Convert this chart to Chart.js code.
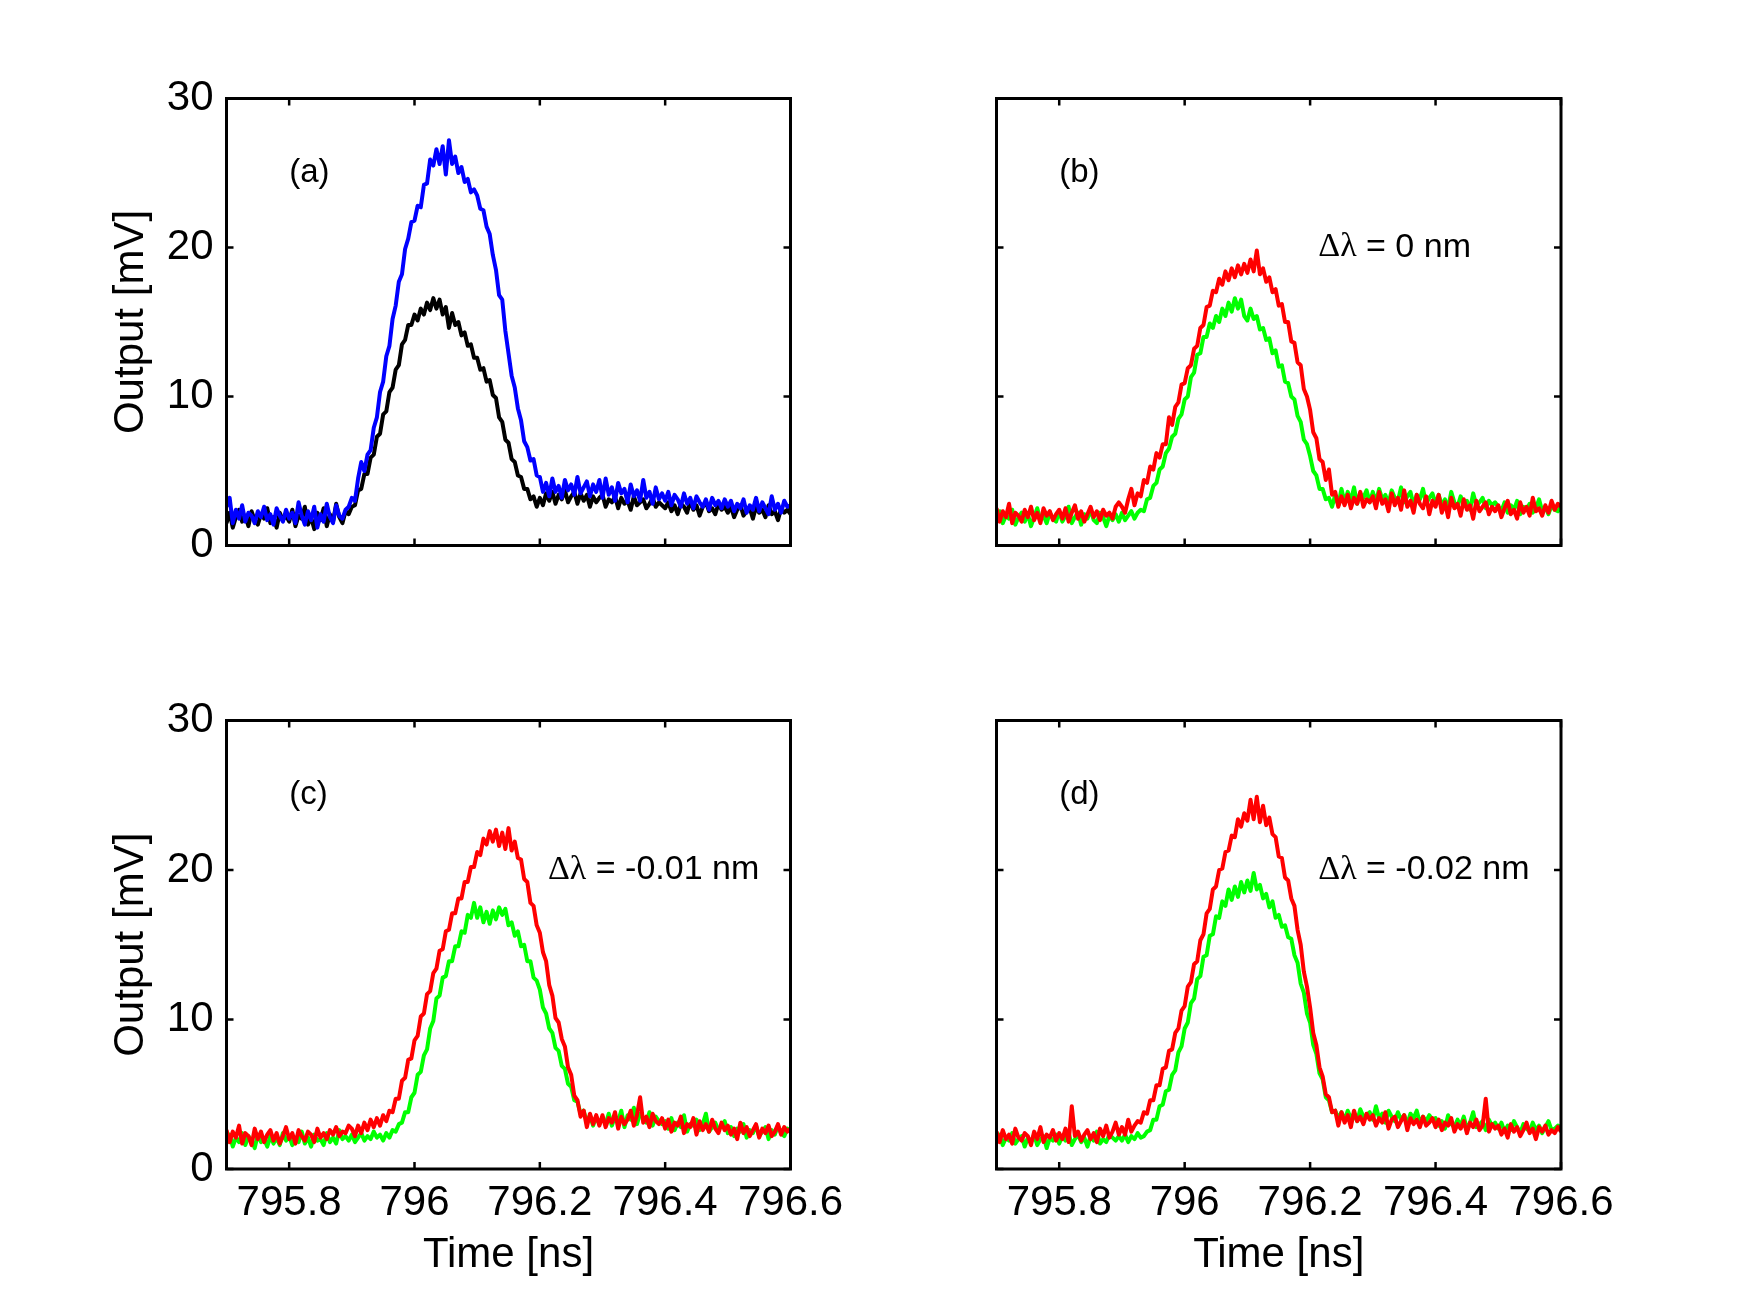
<!DOCTYPE html>
<html><head><meta charset="utf-8">
<script src="https://cdn.jsdelivr.net/npm/chart.js@4/dist/chart.umd.min.js"></script>
<style>
html,body{margin:0;padding:0;background:#fff;}
#wrap{position:relative;width:1750px;height:1312px;background:#fff;overflow:hidden;}
canvas{position:absolute;}
</style></head><body>
<div id="wrap">
<canvas id="pa" width="875" height="656" style="left:0px;top:0px"></canvas>
<canvas id="pb" width="875" height="656" style="left:875px;top:0px"></canvas>
<canvas id="pc" width="875" height="656" style="left:0px;top:656px"></canvas>
<canvas id="pd" width="875" height="656" style="left:875px;top:656px"></canvas>
</div>
<script>
// ---------- data ----------
const time = [
795.700,795.705,795.710,795.715,795.720,795.725,795.730,795.735,795.740,795.745,795.750,795.755,795.760,795.765,795.770,795.775,795.780,795.785,795.790,795.795,
795.800,795.805,795.810,795.815,795.820,795.825,795.830,795.835,795.840,795.845,795.850,795.855,795.860,795.865,795.870,795.875,795.880,795.885,795.890,795.895,
795.900,795.905,795.910,795.915,795.920,795.925,795.930,795.935,795.940,795.945,795.950,795.955,795.960,795.965,795.970,795.975,795.980,795.985,795.990,795.995,
796.000,796.005,796.010,796.015,796.020,796.025,796.030,796.035,796.040,796.045,796.050,796.055,796.060,796.065,796.070,796.075,796.080,796.085,796.090,796.095,
796.100,796.105,796.110,796.115,796.120,796.125,796.130,796.135,796.140,796.145,796.150,796.155,796.160,796.165,796.170,796.175,796.180,796.185,796.190,796.195,
796.200,796.205,796.210,796.215,796.220,796.225,796.230,796.235,796.240,796.245,796.250,796.255,796.260,796.265,796.270,796.275,796.280,796.285,796.290,796.295,
796.300,796.305,796.310,796.315,796.320,796.325,796.330,796.335,796.340,796.345,796.350,796.355,796.360,796.365,796.370,796.375,796.380,796.385,796.390,796.395,
796.400,796.405,796.410,796.415,796.420,796.425,796.430,796.435,796.440,796.445,796.450,796.455,796.460,796.465,796.470,796.475,796.480,796.485,796.490,796.495,
796.500,796.505,796.510,796.515,796.520,796.525,796.530,796.535,796.540,796.545,796.550,796.555,796.560,796.565,796.570,796.575,796.580,796.585,796.590,796.595,
796.600];

const aBlue = [
2.6,3.2,1.5,2.4,1.8,2.7,1.6,2.2,2.0,1.5,2.3,1.9,2.6,1.7,2.1,1.4,2.5,2.0,1.6,2.4,
1.8,2.2,1.5,2.9,2.0,1.4,2.3,1.7,2.6,1.2,2.1,1.6,2.8,1.9,1.5,2.7,2.0,1.8,2.4,2.6,
3.2,3.0,4.5,5.6,5.0,6.1,6.4,7.9,8.6,10.3,11.0,12.7,13.4,15.2,16.1,17.7,18.2,19.9,20.6,21.7,
21.8,22.8,22.7,24.2,24.3,25.9,25.5,26.6,25.6,26.8,24.9,27.2,25.6,26.1,25.0,25.4,24.4,24.6,23.7,23.9,
23.5,22.6,22.5,21.4,20.9,19.5,18.5,16.8,16.5,14.4,12.9,11.4,10.6,9.2,8.4,7.0,6.6,5.7,5.8,4.7,
4.6,3.6,4.2,3.3,4.5,3.6,4.0,3.2,4.4,3.7,4.1,3.4,4.6,3.5,3.9,4.3,3.3,4.1,3.6,4.4,
3.2,4.5,3.4,3.9,3.0,4.2,3.5,3.8,2.9,4.1,3.3,3.7,3.0,4.4,3.2,3.6,2.8,3.9,3.1,3.5,
3.0,3.6,2.7,3.4,3.1,2.6,3.5,2.8,3.2,2.5,3.3,2.9,2.6,3.1,2.4,3.2,2.7,3.0,2.5,3.1,
2.6,3.0,2.3,2.8,2.5,3.1,2.2,2.7,2.4,3.2,2.3,2.9,2.5,2.1,3.3,2.4,2.8,2.2,3.0,2.6,
2.7];

const aBlack = [
1.5,2.2,1.2,1.9,2.4,1.6,2.0,1.3,2.3,1.7,1.4,2.1,1.8,2.5,1.5,1.9,1.2,2.2,1.7,2.0,
1.6,2.4,1.3,2.0,1.8,2.6,1.4,1.9,1.1,2.2,1.7,2.5,1.3,2.1,1.6,2.8,1.9,1.5,2.3,2.1,
2.6,2.7,3.7,3.8,4.8,4.8,5.9,6.1,7.3,7.5,8.8,9.0,10.3,10.6,11.8,12.1,13.5,13.8,14.8,14.8,
15.5,15.1,15.9,15.5,16.3,15.8,16.6,15.9,16.5,15.5,16.0,14.6,15.6,14.8,15.0,14.1,14.3,13.4,13.5,12.6,
12.6,11.8,11.9,11.0,11.1,10.1,9.9,8.6,8.3,7.1,6.9,5.8,5.6,4.7,4.6,3.8,3.8,3.1,3.3,2.6,
3.2,2.7,3.5,3.0,3.6,2.8,3.4,3.1,3.7,2.9,3.3,3.6,2.8,3.5,3.0,3.4,2.6,3.3,2.9,3.2,
3.4,2.6,3.1,2.9,3.3,2.5,3.2,2.8,3.0,2.4,3.3,2.7,2.9,3.1,2.5,2.8,3.2,2.6,2.9,2.7,
2.5,2.9,2.3,2.7,2.1,2.8,2.6,2.2,3.0,2.4,2.7,2.0,2.6,2.9,2.3,2.5,2.1,2.8,2.4,2.6,
2.2,2.6,1.9,2.4,2.7,2.0,2.3,2.5,1.8,2.6,2.2,2.4,1.9,2.7,2.1,2.3,1.7,2.5,2.2,2.4,
2.1];

const bRed = [
2.5,1.6,2.3,1.9,2.8,1.5,2.2,2.0,1.6,2.4,1.9,2.6,1.7,2.2,1.5,2.5,2.0,2.3,1.7,2.1,
2.4,1.8,2.5,1.6,2.2,2.7,1.8,2.3,1.6,2.1,2.6,1.9,2.3,1.7,2.4,2.0,2.2,1.8,2.6,2.9,
2.6,2.2,3.1,3.8,2.7,3.5,3.3,4.4,4.2,5.3,5.1,6.2,5.9,6.8,6.8,8.6,8.1,9.3,9.6,10.8,
10.9,11.9,12.1,13.2,13.4,14.6,14.8,16.0,16.1,17.1,17.0,17.9,17.5,18.4,17.8,18.6,18.0,18.8,18.2,18.9,
18.3,19.2,18.4,19.8,18.2,18.6,17.7,18.0,17.0,17.2,16.1,16.2,15.0,15.0,13.7,13.6,12.3,12.1,10.5,10.0,
9.1,7.6,7.2,5.8,5.6,4.4,5.1,3.4,3.6,2.6,3.3,2.7,3.4,2.5,3.2,2.8,3.6,2.6,3.1,2.9,
3.3,2.5,3.6,2.8,3.1,2.3,3.5,2.7,3.2,2.4,3.7,2.6,3.0,2.2,3.4,2.8,2.5,3.3,2.1,3.0,
2.6,3.4,2.2,2.9,1.9,3.2,2.5,2.8,2.0,3.1,2.4,2.7,1.8,3.0,2.3,2.6,2.9,2.1,2.6,2.3,
2.7,1.9,2.5,3.0,2.1,2.4,1.8,2.9,2.2,2.6,2.0,3.2,2.3,2.5,2.0,2.7,2.2,3.0,2.4,2.8,
2.6];

const bGreen = [
1.7,2.3,1.5,2.0,1.8,2.4,1.4,1.9,2.2,1.6,2.1,1.3,1.9,2.5,1.7,2.0,1.5,2.2,1.8,1.6,
2.3,1.6,2.0,2.6,1.5,1.9,2.2,1.4,2.1,1.8,2.4,1.7,1.5,2.2,1.9,1.3,2.0,1.7,2.1,1.6,
2.2,1.7,2.0,2.3,1.8,2.2,2.4,2.3,3.1,3.2,4.0,4.2,5.1,5.3,6.2,6.5,7.3,7.5,8.5,8.8,
9.8,10.0,11.3,11.6,12.8,12.9,14.0,14.0,14.9,14.6,15.4,15.0,15.9,15.4,16.3,15.7,16.6,15.9,16.5,15.4,
15.1,15.9,15.2,15.4,14.5,14.6,13.8,13.9,12.9,13.1,12.0,12.1,11.0,10.9,10.0,9.8,8.7,8.3,7.1,6.8,
6.0,5.0,4.7,3.8,3.8,3.1,3.2,2.6,3.4,2.7,3.8,2.9,3.6,3.0,3.9,2.8,3.5,3.2,3.7,2.9,
3.6,2.9,3.8,3.1,3.4,2.8,3.7,3.2,3.0,3.9,2.9,3.3,3.6,2.7,3.4,3.1,3.8,2.8,3.2,3.5,
2.8,3.4,2.7,3.1,2.5,3.6,2.9,2.6,3.3,2.8,3.0,2.4,3.5,2.7,2.9,3.2,2.5,3.0,2.7,2.9,
2.6,2.3,2.9,2.2,2.7,2.4,3.0,2.1,2.6,2.4,2.8,2.2,2.5,3.1,2.3,2.6,2.1,2.7,2.4,2.3,
2.6];

const cRed = [
2.6,1.8,2.5,2.1,2.9,1.7,2.4,2.2,1.6,2.7,2.0,2.5,1.8,2.3,2.6,1.9,2.4,1.7,2.2,2.8,
2.0,2.4,1.7,2.6,2.2,1.9,2.5,2.3,1.8,2.7,2.1,2.4,2.0,2.6,2.3,2.8,2.2,2.5,2.4,2.9,
2.7,2.2,2.9,2.4,3.1,2.6,3.3,2.8,3.4,2.9,3.6,3.2,3.9,3.8,4.7,4.7,5.9,6.1,7.3,7.4,
8.6,8.9,10.2,10.4,11.7,11.9,13.1,13.4,14.6,14.7,15.9,16.0,17.1,17.1,18.1,18.1,19.2,19.2,20.2,20.2,
21.2,21.0,22.1,21.7,22.6,21.9,22.7,21.6,22.5,21.4,22.8,21.3,21.9,20.8,20.7,19.4,19.2,17.8,17.6,16.3,
15.8,14.5,13.9,12.3,11.6,10.1,9.8,8.7,8.2,6.8,6.3,4.9,4.6,3.5,3.9,2.8,3.7,3.0,3.6,2.9,
3.6,2.8,3.4,3.1,3.8,2.7,3.5,3.0,3.3,3.9,2.9,3.6,4.8,3.1,3.5,2.8,3.7,3.2,3.0,3.4,
2.7,3.3,2.5,3.1,2.9,3.5,2.4,3.0,2.8,3.4,2.3,3.2,2.6,3.0,2.5,3.3,2.7,2.4,3.1,2.6,
2.9,2.3,2.7,2.0,3.1,2.4,2.8,2.2,2.6,3.0,2.1,2.7,2.4,2.9,2.2,2.5,3.0,2.3,2.8,2.5,
2.7];

const cGreen = [
1.7,2.3,1.5,2.1,1.8,2.4,1.6,2.2,1.9,1.4,2.3,1.8,2.0,1.5,2.2,1.7,2.1,1.6,2.4,1.9,
2.2,1.6,2.0,1.8,2.5,1.7,2.1,1.5,2.3,1.9,2.0,1.6,2.4,1.8,2.1,1.7,2.6,2.0,2.2,1.9,
2.3,1.8,2.1,2.4,1.9,2.2,2.0,2.5,2.1,2.3,1.9,2.4,2.1,2.6,2.5,3.0,3.1,3.8,3.8,4.8,
5.1,6.3,6.5,7.6,8.0,9.4,9.9,11.4,11.6,12.8,12.9,13.9,13.9,14.9,14.9,15.9,15.8,17.0,16.8,17.8,
16.8,17.5,16.5,17.2,16.4,17.3,16.7,17.5,17.0,17.4,16.3,16.5,15.6,15.9,14.9,15.0,13.9,13.9,12.8,12.6,
12.0,10.8,10.4,9.4,9.1,8.1,7.9,6.9,6.7,5.7,5.5,4.6,4.5,3.7,3.9,3.1,3.6,2.9,3.5,3.0,
3.4,3.0,3.7,2.9,3.5,3.2,3.9,2.8,3.6,3.3,4.1,3.0,3.7,3.4,3.1,3.8,2.9,3.5,3.2,3.0,
3.2,2.7,3.4,2.6,3.1,2.8,3.6,2.5,3.0,2.9,3.3,2.6,3.0,3.7,2.5,2.8,3.1,2.6,2.9,3.2,
2.4,2.8,2.2,2.7,2.5,3.0,2.1,2.6,2.4,2.9,2.2,2.5,2.8,2.0,2.6,2.3,2.9,2.4,2.2,2.7,
2.5];

const dRed = [
2.5,1.8,2.6,2.0,2.3,1.7,2.7,2.1,1.9,2.4,2.2,1.6,2.5,2.0,2.8,1.8,2.3,2.1,2.6,1.9,
2.4,2.0,2.7,1.8,4.2,2.2,2.5,1.9,2.3,2.6,2.0,2.4,1.8,2.7,2.2,2.9,2.1,2.5,3.1,2.3,
2.8,2.3,3.3,2.5,2.9,3.2,3.1,3.8,3.7,4.6,4.6,5.6,5.6,6.7,6.8,7.9,8.0,9.1,9.4,10.6,
10.9,12.2,12.5,13.7,13.9,15.3,15.7,17.1,17.4,18.7,18.9,20.0,20.1,21.2,21.3,22.3,22.2,23.4,22.9,23.8,
23.3,24.7,23.4,24.9,23.2,24.3,23.0,23.5,22.4,22.2,20.9,20.8,19.5,19.3,18.1,17.6,16.0,15.0,13.2,12.2,
10.8,9.1,8.3,6.8,6.2,5.0,4.8,3.8,3.9,2.9,3.8,3.1,3.6,2.8,3.9,3.2,3.5,3.0,3.7,3.3,
3.6,2.9,3.4,3.1,3.8,2.7,3.3,3.5,2.8,3.2,3.6,2.6,3.4,3.0,3.3,2.8,3.5,2.9,3.1,3.4,
2.8,3.3,2.6,3.1,2.9,3.4,2.5,3.0,2.7,3.2,2.4,3.1,2.8,3.3,2.6,2.9,4.7,2.5,3.0,2.7,
2.9,2.3,2.7,2.1,3.0,2.5,2.8,2.2,2.6,3.1,2.4,2.7,2.0,2.8,2.5,2.9,2.3,2.6,2.4,2.8,
2.5];

const dGreen = [
1.8,2.3,1.6,2.1,1.9,2.4,1.7,2.0,2.2,1.5,2.1,1.8,2.3,1.6,2.0,2.2,1.4,2.1,1.9,2.3,
1.7,2.2,1.9,2.4,1.6,2.0,2.3,1.8,2.1,1.5,2.2,1.9,2.5,1.7,2.0,1.8,2.3,2.1,1.9,2.2,
1.9,2.3,1.8,2.2,2.0,2.4,2.1,2.2,2.5,2.6,3.3,3.3,4.2,4.3,5.2,5.3,6.3,6.6,7.8,8.2,
9.4,9.8,11.1,11.4,12.7,12.9,14.2,14.3,15.6,15.7,16.9,16.8,17.9,17.6,18.7,18.0,18.9,18.2,19.2,18.5,
19.3,18.6,19.8,18.7,19.0,18.1,18.4,17.5,17.9,16.8,17.0,16.2,16.3,15.5,15.4,14.3,13.8,12.4,11.8,10.4,
9.8,8.3,7.7,6.4,6.0,4.8,4.6,3.8,3.9,3.4,3.8,3.3,3.9,3.4,3.7,3.2,4.0,3.5,3.6,3.8,
3.3,4.2,3.4,3.7,3.1,3.9,3.5,3.2,3.8,3.3,3.6,3.0,3.7,3.4,3.9,3.1,3.5,3.2,3.6,3.3,
3.4,2.9,3.2,2.7,3.6,3.0,2.8,3.3,2.9,3.5,2.7,3.1,3.8,2.8,3.0,3.2,2.6,3.3,2.9,3.1,
2.7,3.1,2.5,2.9,2.6,3.2,2.8,2.4,3.0,2.7,2.5,3.1,2.6,2.9,2.4,2.8,3.2,2.6,2.7,2.9,
2.8];

const xTickValues = [795.8, 796.0, 796.2, 796.4, 796.6];
const xTickLabels = ['795.8', '796', '796.2', '796.4', '796.6'];
const yTickValues = [0, 10, 20, 30];
const yTickLabels = ['0', '10', '20', '30'];
const panelLabels = ['(a)', '(b)', '(c)', '(d)'];
const deltaLabels = ['', '0 nm', '-0.01 nm', '-0.02 nm'];
const xTitle = 'Time [ns]';
const yTitle = 'Output [mV]';

// ---------- styling / layout ----------
const X_MIN = 795.7, X_MAX = 796.6, Y_MIN = 0, Y_MAX = 30;
const LABEL_AT = {x: 795.8, y: 25};
const DELTA_AT = {x: 796.213, y: 20};
const FONT = "'Liberation Sans', Arial, Helvetica, sans-serif";
const SERIF = "'Liberation Serif', 'Times New Roman', serif";
const AX_SIZE = 42;
const TXT_SIZE = 33;
const DELTA_SIZE = 34;
const TICK = 7;

const framePlugin = {
  id: 'frame',
  afterDatasetsDraw(chart) {
    const {ctx, chartArea: a, scales: {x, y}} = chart;
    const cfg = chart.options.plugins.frame;
    ctx.save();
    ctx.strokeStyle = '#000';
    ctx.lineWidth = 2.5;
    ctx.beginPath();
    x.ticks.forEach(t => {
      const p = x.getPixelForValue(t.value);
      ctx.moveTo(p, a.bottom); ctx.lineTo(p, a.bottom - TICK);
      ctx.moveTo(p, a.top); ctx.lineTo(p, a.top + TICK);
    });
    y.ticks.forEach(t => {
      const p = y.getPixelForValue(t.value);
      ctx.moveTo(a.left, p); ctx.lineTo(a.left + TICK, p);
      ctx.moveTo(a.right, p); ctx.lineTo(a.right - TICK, p);
    });
    ctx.stroke();
    ctx.lineWidth = 3;
    ctx.strokeRect(a.left, a.top, a.right - a.left, a.bottom - a.top);
    ctx.fillStyle = '#000';
    ctx.textBaseline = 'middle';
    ctx.textAlign = 'left';
    ctx.font = TXT_SIZE + 'px ' + FONT;
    ctx.fillText(cfg.label, x.getPixelForValue(LABEL_AT.x), y.getPixelForValue(LABEL_AT.y));
    if (cfg.delta) {
      const px = x.getPixelForValue(DELTA_AT.x), py = y.getPixelForValue(DELTA_AT.y);
      ctx.font = DELTA_SIZE + 'px ' + SERIF;
      ctx.fillText('\u0394\u03bb', px, py);
      const w = ctx.measureText('\u0394\u03bb').width;
      ctx.font = DELTA_SIZE + 'px ' + FONT;
      ctx.fillText(' = ' + cfg.delta, px + w, py);
    }
    ctx.restore();
  }
};

function pts(ys) { return time.map((t, i) => ({x: t, y: ys[i]})); }

function makePanel(id, sets, cfg) {
  new Chart(document.getElementById(id), {
    type: 'line',
    data: {
      datasets: sets.map(s => ({
        data: pts(s.values), borderColor: s.color, borderWidth: 4,
        pointRadius: 0, tension: 0, fill: false, borderJoinStyle: 'round'
      }))
    },
    options: {
      responsive: false, animation: false, devicePixelRatio: 1, events: [],
      layout: {padding: cfg.pad},
      plugins: {legend: {display: false}, tooltip: {enabled: false},
                frame: {label: cfg.label, delta: cfg.delta}},
      scales: {
        x: {
          type: 'linear', min: X_MIN, max: X_MAX,
          grid: {display: false, drawTicks: false}, border: {display: false},
          afterBuildTicks: s => { s.ticks = xTickValues.map(v => ({value: v})); },
          ticks: {display: cfg.xLabels, color: '#000', font: {family: FONT, size: AX_SIZE},
                  padding: 9, maxRotation: 0, minRotation: 0, autoSkip: false,
                  callback: (v, i) => xTickLabels[i]},
          title: {display: cfg.xLabels, text: xTitle, color: '#000',
                  font: {family: FONT, size: AX_SIZE}, padding: {top: 0, bottom: 0}},
          afterFit: s => { s.height = cfg.xH; }
        },
        y: {
          type: 'linear', min: Y_MIN, max: Y_MAX,
          grid: {display: false, drawTicks: false}, border: {display: false},
          afterBuildTicks: s => { s.ticks = yTickValues.map(v => ({value: v})); },
          ticks: {display: cfg.yLabels, color: '#000', font: {family: FONT, size: AX_SIZE},
                  padding: 13, autoSkip: false, callback: (v, i) => yTickLabels[i]},
          title: {display: cfg.yLabels, text: yTitle, color: '#000',
                  font: {family: FONT, size: AX_SIZE}, padding: {top: 0, bottom: 0}},
          afterFit: s => { s.width = cfg.yW; }
        }
      }
    },
    plugins: [framePlugin]
  });
}

makePanel('pa', [{values: aBlue, color: '#0000ff'}, {values: aBlack, color: '#000000'}],
  {label: panelLabels[0], delta: deltaLabels[0], xLabels: false, yLabels: true,
   pad: {left: 106, top: 98.5, right: 84.5, bottom: 110.5}, yW: 120.5, xH: 0});
makePanel('pb', [{values: bRed, color: '#ff0000'}, {values: bGreen, color: '#00ff00'}],
  {label: panelLabels[1], delta: deltaLabels[1], xLabels: false, yLabels: false,
   pad: {left: 0, top: 98.5, right: 189, bottom: 110.5}, yW: 121.5, xH: 0});
makePanel('pc', [{values: cRed, color: '#ff0000'}, {values: cGreen, color: '#00ff00'}],
  {label: panelLabels[2], delta: deltaLabels[2], xLabels: true, yLabels: true,
   pad: {left: 106, top: 64.5, right: 84.5, bottom: 31}, yW: 120.5, xH: 112});
makePanel('pd', [{values: dRed, color: '#ff0000'}, {values: dGreen, color: '#00ff00'}],
  {label: panelLabels[3], delta: deltaLabels[3], xLabels: true, yLabels: false,
   pad: {left: 0, top: 64.5, right: 189, bottom: 31}, yW: 121.5, xH: 112});
</script>
</body></html>
